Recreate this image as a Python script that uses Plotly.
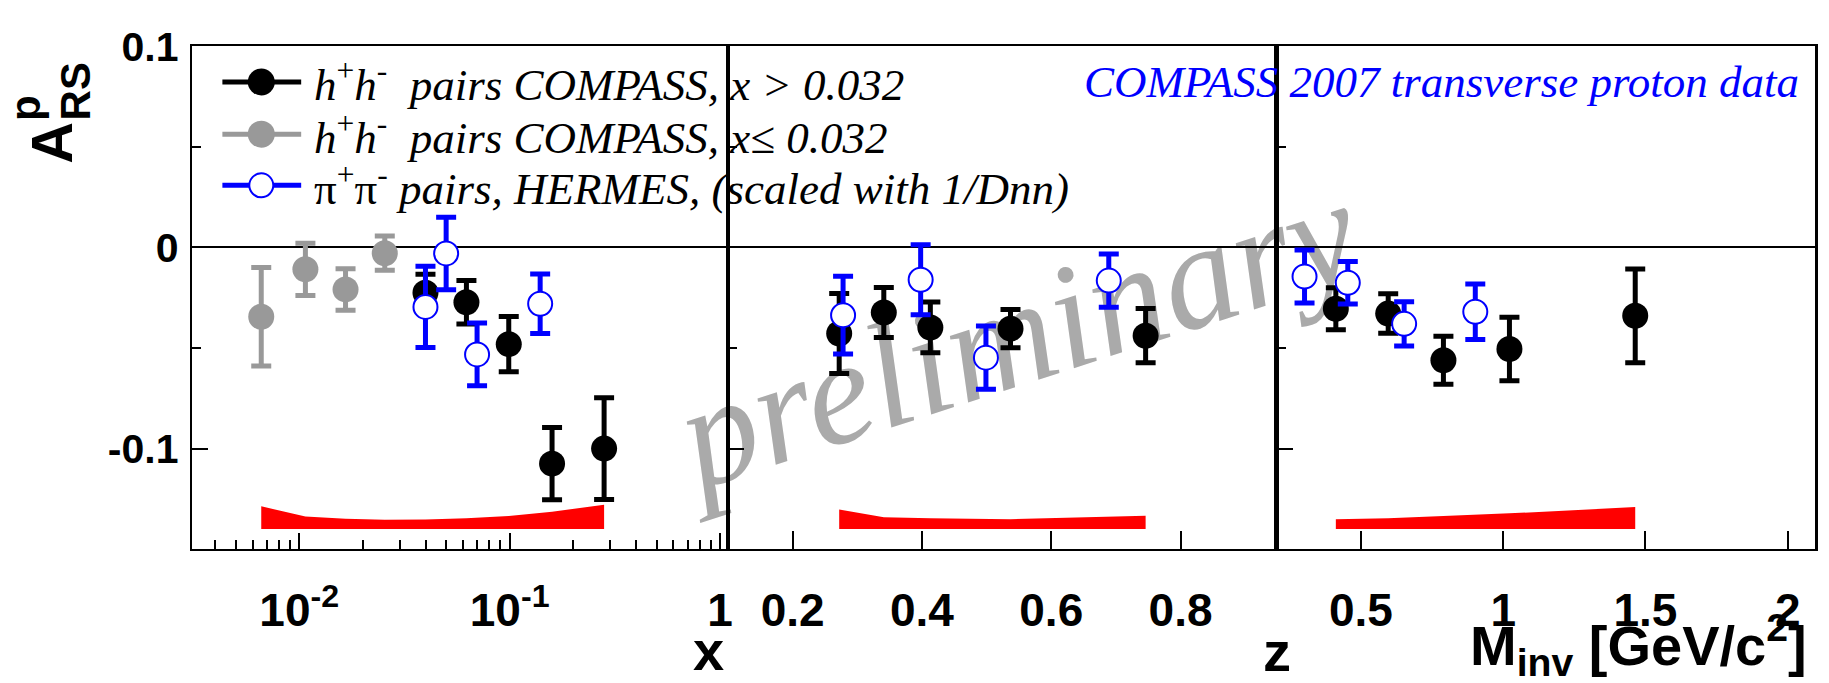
import numpy as np
import plotly.graph_objects as go

W, H = 1829, 683

# ---------------- data ----------------
# panel 1 : x (log)
gray_x = [0.0066, 0.0107, 0.0166, 0.0255]
gray_y = [-0.0345, -0.0109, -0.0209, -0.0029]
gray_err = [0.0245, 0.0130, 0.0103, 0.0085]

blk_x_x = [0.0398, 0.0623, 0.099, 0.159, 0.281]
blk_x_y = [-0.0225, -0.0273, -0.0481, -0.1075, -0.100]
blk_x_err = [0.0092, 0.0108, 0.0137, 0.018, 0.0253]

her_x_x = [0.0398, 0.0499, 0.070, 0.1396]
her_x_y = [-0.0296, -0.0030, -0.0532, -0.028]
her_x_err = [0.0202, 0.0180, 0.0156, 0.0148]

sys_x_x = gray_x + blk_x_x
sys_x_h = [0.0113, 0.0062, 0.0051, 0.0046, 0.0048, 0.0054, 0.0065, 0.0086, 0.0121]

# panel 2 : z
blk_z_x = [0.272, 0.341, 0.413, 0.537, 0.746]
blk_z_y = [-0.0428, -0.0324, -0.0398, -0.0404, -0.0439]
blk_z_err = [0.0199, 0.0124, 0.0126, 0.0095, 0.0135]
her_z_x = [0.278, 0.398, 0.499, 0.689]
her_z_y = [-0.0337, -0.0161, -0.0548, -0.0165]
her_z_err = [0.0193, 0.0174, 0.0157, 0.0132]
sys_z_h = [0.0097, 0.0058, 0.0054, 0.0049, 0.0066]

# panel 3 : Minv
blk_m_x = [0.412, 0.596, 0.79, 1.022, 1.464]
blk_m_y = [-0.0305, -0.0329, -0.0561, -0.0505, -0.034]
blk_m_err = [0.0104, 0.0098, 0.0119, 0.0158, 0.0233]
her_m_x = [0.302, 0.454, 0.652, 0.902]
her_m_y = [-0.0145, -0.0176, -0.038, -0.032]
her_m_err = [0.0132, 0.0106, 0.011, 0.0138]
sys_m_h = [0.0049, 0.0054, 0.0065, 0.0078, 0.0109]

SYS_BASE = -0.14

y_tickvals = [-0.1, 0, 0.1]
y_ticktext = ["-0.1", "0", "0.1"]
x_tickvals = [0.01, 0.1, 1]
x_ticktext = ["10<sup>-2</sup>", "10<sup>-1</sup>", "1"]
z_tickvals = [0.2, 0.4, 0.6, 0.8]
z_ticktext = ["0.2", "0.4", "0.6", "0.8"]
m_tickvals = [0.5, 1, 1.5, 2]
m_ticktext = ["0.5", "1", "1.5", "2"]

legend_labels = [
    "<i>h</i><sup>+</sup><i>h</i><sup>-</sup>\u00a0 <i>pairs COMPASS, x &gt; 0.032</i>",
    "<i>h</i><sup>+</sup><i>h</i><sup>-</sup>\u00a0 <i>pairs COMPASS, x\u2264 0.032</i>",
    "\u03c0<sup>+</sup>\u03c0<sup>-</sup> <i>pairs, HERMES, (scaled with 1/Dnn)</i>",
]

BLACK = "#000000"
GRAY = "#999999"
BLUE = "#0000ff"
RED = "#ff0000"

def px(x):
    return x / W

def py(y):
    return 1 - y / H

fig = go.Figure()

def band(xs, hs, xa, ya):
    xx = list(xs) + list(xs)[::-1]
    yy = [SYS_BASE + h for h in hs] + [SYS_BASE] * len(xs)
    fig.add_trace(go.Scatter(x=xx, y=yy, fill="toself", fillcolor=RED, mode="lines",
                             line=dict(width=0, color=RED), xaxis=xa, yaxis=ya,
                             hoverinfo="skip"))

def pts(xs, ys, errs, color, xa, ya, hollow=False):
    if hollow:
        marker = dict(symbol="circle", size=24, color="white", line=dict(color=color, width=2))
    else:
        marker = dict(symbol="circle", size=26, color=color, line=dict(width=0))
    fig.add_trace(go.Scatter(x=xs, y=ys, mode="markers", marker=marker,
                             error_y=dict(type="data", array=errs, thickness=5, width=10, color=color),
                             xaxis=xa, yaxis=ya))

band(sys_x_x, sys_x_h, "x", "y")
band(blk_z_x, sys_z_h, "x2", "y2")
band(blk_m_x, sys_m_h, "x3", "y3")

pts(gray_x, gray_y, gray_err, GRAY, "x", "y")
pts(blk_x_x, blk_x_y, blk_x_err, BLACK, "x", "y")
pts(her_x_x, her_x_y, her_x_err, BLUE, "x", "y", hollow=True)
pts(blk_z_x, blk_z_y, blk_z_err, BLACK, "x2", "y2")
pts(her_z_x, her_z_y, her_z_err, BLUE, "x2", "y2", hollow=True)
pts(blk_m_x, blk_m_y, blk_m_err, BLACK, "x3", "y3")
pts(her_m_x, her_m_y, her_m_err, BLUE, "x3", "y3", hollow=True)

ydom = [py(544.5), py(24)]
p1 = [px(193), px(730)]
p2 = [px(730), px(1281)]
p3 = [px(1281), px(1819.5)]

tickfont_x = dict(family="Liberation Sans", size=46, color="black", weight="bold")
tickfont_y = dict(family="Liberation Sans", size=41, color="black", weight="bold")

common_axis = dict(showline=True, mirror=True, linecolor="black", linewidth=1.5,
                   showgrid=False, ticks="inside", tickcolor="black", tickwidth=1.5)

log_minor = [m * 10 ** k for k in (-3, -2, -1) for m in range(2, 10)]
log_minor = [v for v in log_minor if 0.0031 < v < 1.09]

fig.update_layout(
    width=W, height=H, margin=dict(l=0, r=0, t=0, b=0),
    paper_bgcolor="white", plot_bgcolor="rgba(0,0,0,0)", showlegend=False,
    xaxis=dict(domain=p1, type="log", range=[np.log10(0.00311), np.log10(1.09)], anchor="y",
               tickvals=x_tickvals, ticktext=x_ticktext, ticklen=16, tickfont=tickfont_x,
               ticklabelstandoff=20, zeroline=False,
               minor=dict(tickvals=log_minor, ticks="inside", ticklen=9, tickwidth=1.5, tickcolor="black"),
               **common_axis),
    xaxis2=dict(domain=p2, range=[0.1, 0.95], anchor="y2", tickvals=z_tickvals, ticktext=z_ticktext,
                ticklen=18, tickfont=tickfont_x, ticklabelstandoff=20, zeroline=False, **common_axis),
    xaxis3=dict(domain=p3, range=[0.207, 2.094], anchor="y3", tickvals=m_tickvals, ticktext=m_ticktext,
                ticklen=18, tickfont=tickfont_x, ticklabelstandoff=20, zeroline=False, **common_axis),
)
for name, xa in (("yaxis", "x"), ("yaxis2", "x2"), ("yaxis3", "x3")):
    fig.layout[name] = dict(domain=ydom, range=[-0.15, 0.1], anchor=xa,
                            tickvals=y_tickvals, ticktext=y_ticktext, ticklen=16,
                            tickfont=tickfont_y, showticklabels=(name == "yaxis"),
                            ticklabelstandoff=4,
                            zeroline=True, zerolinecolor="black", zerolinewidth=1.5,
                            minor=dict(tickvals=[-0.05, 0.05], ticks="inside", ticklen=9,
                                       tickwidth=1.5, tickcolor="black"),
                            **common_axis)
fig.layout.yaxis3.linewidth = 2.5

# ---------------- legend ----------------
rows = [61, 115, 168]
leg_colors = [BLACK, GRAY, BLUE]
for r, c, lab, i in zip(rows, leg_colors, legend_labels, range(3)):
    fig.add_shape(type="line", xref="paper", yref="paper", x0=px(223), x1=px(302), y0=py(r), y1=py(r),
                  line=dict(color=c, width=5))
    if i < 2:
        fig.add_shape(type="circle", xref="paper", yref="paper", xsizemode="pixel", ysizemode="pixel",
                      xanchor=px(262), yanchor=py(r), x0=-13.5, x1=13.5, y0=-13.5, y1=13.5,
                      fillcolor=c, line=dict(width=0))
    else:
        fig.add_shape(type="circle", xref="paper", yref="paper", xsizemode="pixel", ysizemode="pixel",
                      xanchor=px(262), yanchor=py(r), x0=-12, x1=12, y0=-12, y1=12,
                      fillcolor="white", line=dict(width=2, color=c))
    fig.add_annotation(xref="paper", yref="paper", x=px(313), y=py(r), xanchor="left", yanchor="middle",
                       text=lab, showarrow=False,
                       font=dict(family="Liberation Serif", size=45, color="black"))

fig.add_annotation(xref="paper", yref="paper", x=px(1806), y=py(61), xanchor="right", yanchor="middle",
                   text="<i>COMPASS 2007 transverse proton data</i>", showarrow=False,
                   font=dict(family="Liberation Serif", size=45, color=BLUE))

# watermark
fig.add_shape(type="line", xref="paper", yref="paper", x0=px(815), x1=px(1215), y0=py(305), y1=py(305),
              layer="below", line=dict(color="rgba(0,0,0,0)", width=0),
              label=dict(text="<i>preliminary</i>", textangle=-18, textposition="middle",
                         yanchor="middle", xanchor="center", padding=0,
                         font=dict(family="Liberation Serif", size=150, color="#aaaaaa")))

# ---------------- axis titles ----------------
tf = dict(family="Liberation Sans", size=56, color="black")
fig.add_annotation(xref="paper", yref="paper", x=px(728), y=py(649), xanchor="right", yanchor="middle",
                   text="<b>x</b>", showarrow=False, font=tf)
fig.add_annotation(xref="paper", yref="paper", x=px(1297), y=py(650), xanchor="right", yanchor="middle",
                   text="<b>z</b>", showarrow=False, font=tf)
fig.add_annotation(xref="paper", yref="paper", x=px(1814), y=py(644), xanchor="right", yanchor="middle",
                   text="<b>M<sub>inv</sub> [GeV/c<sup>2</sup>]</b>", showarrow=False, font=tf)

# y title A^p_RS (stacked sup/sub)
fig.add_annotation(xref="paper", yref="paper", x=px(52), y=py(124), xanchor="center", yanchor="middle",
                   text="<b>A</b>", textangle=-90, showarrow=False,
                   font=dict(family="Liberation Sans", size=58, color="black"))
fig.add_annotation(xref="paper", yref="paper", x=px(25), y=py(88), xanchor="center", yanchor="middle",
                   text="<b>p</b>", textangle=-90, showarrow=False,
                   font=dict(family="Liberation Sans", size=42, color="black"))
fig.add_annotation(xref="paper", yref="paper", x=px(76), y=py(71), xanchor="center", yanchor="middle",
                   text="<b>RS</b>", textangle=-90, showarrow=False,
                   font=dict(family="Liberation Sans", size=42, color="black"))

fig.write_html("out.html")
